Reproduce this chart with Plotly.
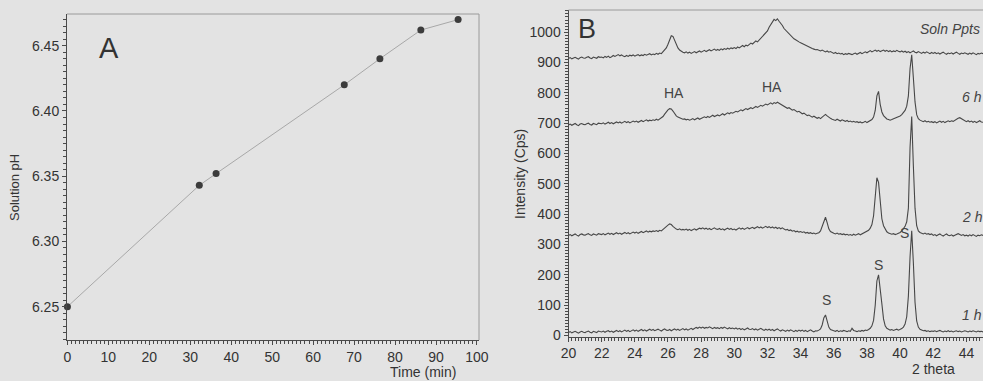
import plotly.graph_objects as go

W, H = 983, 381

# ---------------- Panel A data ----------------
time_min = [0, 32.2, 36.3, 67.6, 76.3, 86.3, 95.4]
solution_ph = [6.25, 6.343, 6.352, 6.420, 6.440, 6.462, 6.470]

# ---------------- Panel B data (2 theta scan, 0.1 deg steps 20.0 .. 45.0) ----------------
two_theta = [round(20 + 0.1 * i, 1) for i in range(251)]

soln_ppts = [
    913, 916, 912, 915, 917, 914, 911, 916, 918, 915,
    914, 917, 919, 915, 913, 918, 916, 914, 919, 917,
    918, 915, 920, 917, 921, 916, 919, 923, 920, 924,
    926, 922, 925, 921, 919, 923, 920, 924, 922, 925,
    921, 924, 926, 922, 925, 923, 927, 924, 926, 929,
    925, 928, 926, 930, 927, 931, 929, 935, 940, 948,
    960, 976, 988, 986, 972, 958, 948, 941, 937, 934,
    932, 935, 931, 934, 930, 933, 936, 932, 935, 938,
    934, 937, 940, 936, 939, 942, 938, 941, 944, 940,
    943, 940, 945, 942, 946, 943, 947, 944, 948, 946,
    949, 946, 951, 948, 953, 956, 952, 957, 955, 960,
    964, 961, 967, 971, 968, 974, 980, 986, 990, 996,
    1004, 1016, 1026, 1034, 1042, 1038, 1044, 1036, 1030, 1022,
    1012, 1006, 1000, 994, 988, 984, 978, 975, 970, 968,
    965, 962, 959, 956, 953, 951, 948, 946, 944, 942,
    943, 940, 938, 941, 937, 935, 938, 934, 936, 932,
    930, 933, 929, 931, 928, 930, 926, 929, 927, 930,
    928, 926, 929, 931, 927, 930, 933, 929, 932, 935,
    932, 936, 939, 935, 938, 941, 937, 940, 936, 939,
    941, 937, 940, 936, 939, 935, 938, 936, 940, 937,
    935, 938, 934, 937, 933, 936, 932, 935, 938, 934,
    932, 936, 933, 930, 934, 931, 935, 932, 929, 933,
    930, 933, 929, 932, 928, 931, 934, 930, 927, 931,
    929, 932, 928, 931, 934, 930, 927, 931, 929, 932,
    930, 927, 931, 928, 932, 929, 926, 930, 928, 931,
    929,
]

h6 = [
    694, 697, 693, 696, 699, 695, 692, 697, 699, 696,
    695, 698, 700, 696, 694, 699, 697, 695, 700, 698,
    698, 701, 697, 700, 703, 699, 702, 698, 701, 704,
    701, 704, 700, 703, 706, 702, 705, 701, 704, 707,
    704, 707, 703, 706, 709, 705, 708, 711, 707, 710,
    708, 711, 709, 713, 710, 714, 718, 722, 730, 738,
    744, 748, 747, 740, 731, 724, 720, 717, 715, 713,
    714, 711, 713, 710, 712, 715, 711, 714, 717, 713,
    716, 719, 721, 718, 722, 719, 723, 726, 722, 725,
    727, 724, 728, 731, 727, 730, 734, 731, 735, 733,
    736, 739, 737, 741, 744, 741, 745, 748, 745, 749,
    751, 748, 752, 755, 752, 756, 759, 756, 760, 763,
    760, 764, 767, 763, 768, 765, 769, 766, 762, 759,
    756, 752, 749, 751, 746, 743, 745, 740, 737, 739,
    734, 731, 733, 728, 725, 727, 722, 720, 723, 718,
    716, 719, 715, 720, 726, 729, 724, 719, 716, 713,
    712, 709, 713, 710, 707, 711, 708, 706, 709, 705,
    707, 704, 706, 703, 705, 702, 704, 701, 703, 706,
    702, 705, 707, 712, 720, 742, 790, 805, 762, 737,
    725, 718, 714, 712, 710, 712, 714, 716, 718, 721,
    724, 728, 734, 742, 756, 790, 880, 925, 850, 770,
    728, 715, 710, 707, 705, 708, 704, 706, 703, 705,
    702, 705, 701, 704, 707, 703, 706, 702, 705, 708,
    705, 708, 706, 710, 713, 716, 718, 714, 710, 707,
    705, 708, 704, 707, 703, 706, 702, 705, 708, 704,
    703,
]

h2 = [
    330, 333, 329, 332, 335, 331, 328, 333, 335, 332,
    331, 334, 336, 332, 330, 335, 333, 331, 336, 334,
    333, 336, 332, 335, 338, 334, 337, 333, 336, 339,
    335, 338, 334, 337, 340, 336, 339, 335, 338, 341,
    338, 341, 337, 340, 343, 339, 342, 345, 341, 344,
    342, 345, 343, 346, 343, 347, 345, 349, 353, 358,
    364, 368, 366, 360, 355, 351, 349, 352, 348, 350,
    348, 351, 347, 350, 346, 349, 352, 348, 351, 354,
    352, 355, 351, 354, 350, 353, 349, 352, 355, 351,
    350, 353, 349, 352, 348, 351, 354, 350, 353, 349,
    351, 348, 352, 355, 351, 354, 350, 353, 356, 352,
    354, 357, 353, 356, 359, 355, 358, 354, 357, 360,
    356, 359, 355, 358, 354, 357, 353, 356, 352, 355,
    351, 348, 350, 346, 348, 344, 346, 342, 344, 341,
    343, 340, 342, 338, 340, 337, 339, 336, 338, 335,
    337, 339, 345, 360, 382, 390, 372, 352, 343, 339,
    337, 335, 338, 334, 336, 333, 335, 332, 334, 331,
    333, 330, 334, 331, 333, 336, 332, 335, 338, 340,
    343, 347, 354, 366, 395, 460, 520, 505, 430, 385,
    362, 350, 342, 338, 335, 334, 336, 333, 335, 337,
    340, 345, 352, 360, 375, 420, 620, 722, 560, 420,
    362, 345, 340, 337, 335, 338, 334, 336, 333, 335,
    330, 333, 329, 332, 335, 331, 328, 332, 335, 331,
    329, 332, 328, 331, 334, 336, 333, 330, 333, 329,
    331, 328, 332, 329, 333, 330, 327, 331, 329, 332,
    330,
]

h1 = [
    10, 13, 9, 12, 14, 11, 8, 12, 14, 11,
    10, 13, 15, 11, 9, 14, 12, 10, 15, 13,
    12, 15, 11, 14, 16, 12, 15, 11, 14, 17,
    13, 16, 12, 15, 18, 14, 17, 13, 16, 19,
    15, 18, 14, 17, 20, 16, 19, 15, 18, 21,
    17, 20, 16, 19, 21, 18, 15, 19, 22, 18,
    17, 20, 16, 19, 22, 18, 21, 17, 20, 23,
    19, 22, 18, 21, 24, 20, 23, 27, 24, 28,
    25, 28, 24, 27, 25, 29, 26, 23, 27, 24,
    26, 23, 27, 24, 28, 25, 22, 26, 23, 25,
    22, 25, 21, 24, 20, 23, 19, 22, 25, 21,
    20, 23, 19, 22, 18, 21, 24, 20, 17, 21,
    18, 21, 17, 20, 16, 19, 22, 18, 15, 19,
    17, 14, 18, 15, 19, 16, 13, 17, 14, 18,
    15, 18, 14, 17, 13, 16, 19, 15, 12, 16,
    15, 18, 22, 35, 58, 68, 45, 28, 20, 17,
    16, 14, 17, 13, 16, 14, 17, 15, 13, 16,
    14, 24, 17, 15, 13, 16, 14, 17, 15, 18,
    17, 20, 24, 32, 50, 100, 180, 200, 140, 105,
    55, 32, 24, 20, 18, 20, 17, 19, 21, 18,
    20, 23, 28, 38, 62, 130, 260, 345, 240, 110,
    48, 28, 21, 18, 16, 17, 14, 16, 13, 15,
    14, 16, 13, 15, 17, 14, 12, 15, 13, 16,
    13, 15, 12, 14, 16, 13, 15, 12, 14, 16,
    14, 12, 15, 13, 16, 14, 12, 15, 13, 14,
    12,
]

patterns = [("1 h", h1), ("2 h", h2), ("6 h", h6), ("Soln Ppts", soln_ppts)]

# ---------------- Figure ----------------
BG = "#e3e3e3"
INK = "#333333"
AX = "#4a4a4a"
FONT = "Liberation Sans, Arial, sans-serif"

def px_x(p):
    return p / W

def px_y(p):
    return 1 - p / H

fig = go.Figure()

fig.add_trace(go.Scatter(
    x=time_min, y=solution_ph, mode="lines+markers",
    line=dict(color="#a8a8a8", width=1),
    marker=dict(color="#3c3c3c", size=7),
    xaxis="x", yaxis="y", showlegend=False, cliponaxis=False,
))

for name, vals in patterns:
    fig.add_trace(go.Scatter(
        x=two_theta, y=vals, mode="lines", name=name,
        line=dict(color="#474747", width=1.1),
        xaxis="x2", yaxis="y2", showlegend=False,
    ))

tickfont = dict(family=FONT, size=14, color="#333333")

common_axis = dict(
    showgrid=False, zeroline=False, showline=True, linecolor=AX, linewidth=1,
    ticks="outside", ticklen=4, tickwidth=1, tickcolor=AX, tickfont=tickfont,
    automargin=False,
)

fig.update_layout(
    width=W, height=H,
    margin=dict(l=0, r=0, t=0, b=0, pad=0),
    paper_bgcolor=BG, plot_bgcolor=BG,
    font=dict(family=FONT, color=INK),
    xaxis=dict(
        domain=[px_x(67), px_x(479)], range=[-0.1, 100.5],
        dtick=10, tick0=0,
        minor=dict(dtick=1, ticklen=3, ticks="outside", tickcolor=AX, tickwidth=1),
        anchor="y", **common_axis,
    ),
    yaxis=dict(
        domain=[px_y(340), px_y(14)], range=[6.2245, 6.4743],
        dtick=0.05, tick0=6.25, tickformat=".2f",
        minor=dict(dtick=0.005, ticklen=3, ticks="outside", tickcolor=AX, tickwidth=1),
        anchor="x", **common_axis,
    ),
    xaxis2=dict(
        domain=[px_x(568.5), 1.0], range=[20.0, 45.0],
        dtick=2, tick0=20,
        minor=dict(dtick=0.2, ticklen=3, ticks="outside", tickcolor=AX, tickwidth=1),
        anchor="y2", **common_axis,
    ),
    yaxis2=dict(
        domain=[px_y(336.5), px_y(10)], range=[-3, 1073],
        dtick=100, tick0=0,
        minor=dict(dtick=10, ticklen=3, ticks="outside", tickcolor=AX, tickwidth=1),
        anchor="x2", **common_axis,
    ),
)

# light frame lines (top / right) of the panels
fig.add_shape(type="line", xref="paper", yref="paper",
              x0=px_x(67), x1=px_x(479), y0=px_y(14), y1=px_y(14),
              line=dict(color="#9a9a9a", width=1))
fig.add_shape(type="line", xref="paper", yref="paper",
              x0=px_x(479), x1=px_x(479), y0=px_y(14), y1=px_y(340),
              line=dict(color="#9a9a9a", width=1))
fig.add_shape(type="line", xref="paper", yref="paper",
              x0=px_x(568.5), x1=1.0, y0=px_y(10), y1=px_y(10),
              line=dict(color="#9a9a9a", width=1))

def label(text, x, y, size=14, xanchor="center", yanchor="middle", angle=0,
          italic=False, xref="paper", yref="paper", color=INK):
    fig.add_annotation(
        text=f"<i>{text}</i>" if italic else text,
        x=x, y=y, xref=xref, yref=yref, showarrow=False,
        xanchor=xanchor, yanchor=yanchor, textangle=angle,
        font=dict(family=FONT, size=size, color=color),
    )

# panel letters and axis titles
label("A", px_x(109), px_y(48), size=29)
label("B", px_x(587), px_y(29), size=27)
label("Solution pH", px_x(15), px_y(188), size=13, angle=-90)
label("Time (min)", px_x(423), px_y(372), size=14)
label("Intensity (Cps)", px_x(520), px_y(174), size=14, angle=-90)
label("2 theta", px_x(933), px_y(369), size=14)

# peak labels (data coordinates of panel B)
for txt, xv, yv in [("HA", 26.35, 799), ("HA", 32.3, 819),
                    ("S", 35.57, 118), ("S", 38.69, 233), ("S", 40.29, 339)]:
    label(txt, xv, yv, size=14, xref="x2", yref="y2", color="#444444")

# pattern names
for txt, xv, yv in [("Soln Ppts", 41.1, 1010), ("6 h", 43.6, 787),
                    ("2 h", 43.6, 391), ("1 h", 43.6, 67)]:
    label(txt, xv, yv, size=14, xanchor="left", italic=True,
          xref="x2", yref="y2", color="#444444")

fig.write_html(
    "out.html",
    config={"displayModeBar": False},
    post_script="document.body.style.margin='0px';document.body.style.overflow='hidden';",
)
